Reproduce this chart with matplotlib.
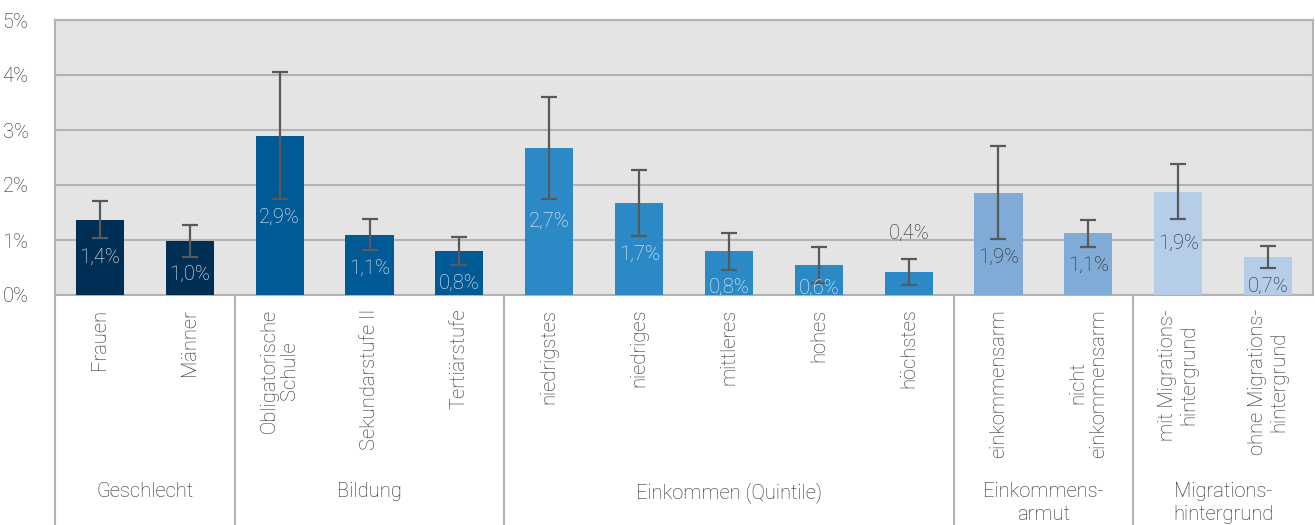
import matplotlib
matplotlib.use('Agg')
from matplotlib import pyplot as plt

plt.rcParams['font.family'] = ['Roboto', 'DejaVu Sans']
plt.rcParams['font.weight'] = 'light'

# data (Anteil in %)
categories = ['Frauen', 'Männer',
              'Obligatorische\nSchule', 'Sekundarstufe II', 'Tertiärstufe',
              'niedrigstes', 'niedriges', 'mittleres', 'hohes', 'höchstes',
              'einkommensarm', 'nicht\neinkommensarm',
              'mit Migrations-\nhintergrund', 'ohne Migrations-\nhintergrund']
values = [1.36, 0.99, 2.89, 1.09, 0.80, 2.67, 1.67, 0.80, 0.55, 0.42, 1.85, 1.13, 1.87, 0.69]
labels = ['1,4%', '1,0%', '2,9%', '1,1%', '0,8%', '2,7%', '1,7%', '0,8%', '0,6%', '0,4%',
          '1,9%', '1,1%', '1,9%', '0,7%']
err_low = [1.04, 0.70, 1.74, 0.81, 0.55, 1.75, 1.07, 0.46, 0.22, 0.18, 1.01, 0.87, 1.38, 0.49]
err_high = [1.71, 1.27, 4.05, 1.39, 1.05, 3.60, 2.28, 1.13, 0.87, 0.65, 2.71, 1.37, 2.38, 0.90]
groups = ['Geschlecht', 'Bildung', 'Einkommen (Quintile)', 'Einkommens-\narmut', 'Migrations-\nhintergrund']
group_sizes = [2, 3, 5, 2, 2]
group_colors = ['#002f56', '#005a96', '#2b8ac6', '#80abd7', '#b6cdea']
text_dark = [False, False, False, True, True]

grey_txt = '#262626'
line_col = '#b3b3b3'
fs = 14.5

fig = plt.figure(figsize=(13.15, 5.25), dpi=100)
ax = fig.add_axes([55 / 1315, (525 - 295) / 525, (1313 - 55) / 1315, 275 / 525])
ax.set_facecolor('#e4e4e4')

colors, dark = [], []
for g, n in enumerate(group_sizes):
    colors += [group_colors[g]] * n
    dark += [text_dark[g]] * n

x = list(range(len(values)))
yerr = [[v - lo for v, lo in zip(values, err_low)], [hi - v for v, hi in zip(values, err_high)]]
ax.bar(x, values, width=0.535, color=colors, zorder=3)
ax.errorbar(x, values, yerr=yerr, fmt='none', ecolor='#595959', elinewidth=1.6,
            capsize=5.5, capthick=1.6, zorder=4)

for i, v in enumerate(values):
    if v < 0.5:
        ax.text(i, err_high[i] + 0.3, labels[i], ha='center', va='bottom', fontsize=fs,
                color=grey_txt, zorder=5)
    else:
        y = max(min(v / 2, err_low[i] - 0.33), 0.12)
        ax.text(i, y, labels[i], ha='center', va='center', fontsize=fs,
                color=grey_txt if dark[i] else '#f4f4f4', zorder=5, clip_on=True)

ax.set_xlim(-0.5, len(values) - 0.5)
ax.set_ylim(0, 5)
ax.set_yticks(range(6))
ax.set_yticklabels(['{}%'.format(t) for t in range(6)], fontsize=fs, color=grey_txt)
ax.tick_params(axis='y', length=0, pad=19)
ax.tick_params(axis='x', length=0, labelbottom=False)
ax.grid(axis='y', color=line_col, linewidth=1.5, zorder=1)
for s in ax.spines.values():
    s.set_color(line_col)
    s.set_linewidth(1.5)

# category and group labels below the axis
trans = ax.get_xaxis_transform()
for i, c in enumerate(categories):
    ax.text(i, -0.05, c, rotation=90, ha='center', va='top', multialignment='center',
            fontsize=fs, color=grey_txt, transform=trans, linespacing=1.1)

bottom = -230 / 275
start = 0
ax.plot([-0.5, -0.5], [0, bottom], color=line_col, lw=1.5, transform=trans, clip_on=False)
for g, n in enumerate(group_sizes):
    mid = start + (n - 1) / 2
    ax.text(mid, -0.68, groups[g], ha='center', va='top', fontsize=fs, color=grey_txt,
            transform=trans, linespacing=1.25, clip_on=False)
    start += n
    if start < len(values):
        ax.plot([start - 0.5, start - 0.5], [0, bottom], color=line_col, lw=1.5,
                transform=trans, clip_on=False)

fig.savefig('out.png', dpi=100)
